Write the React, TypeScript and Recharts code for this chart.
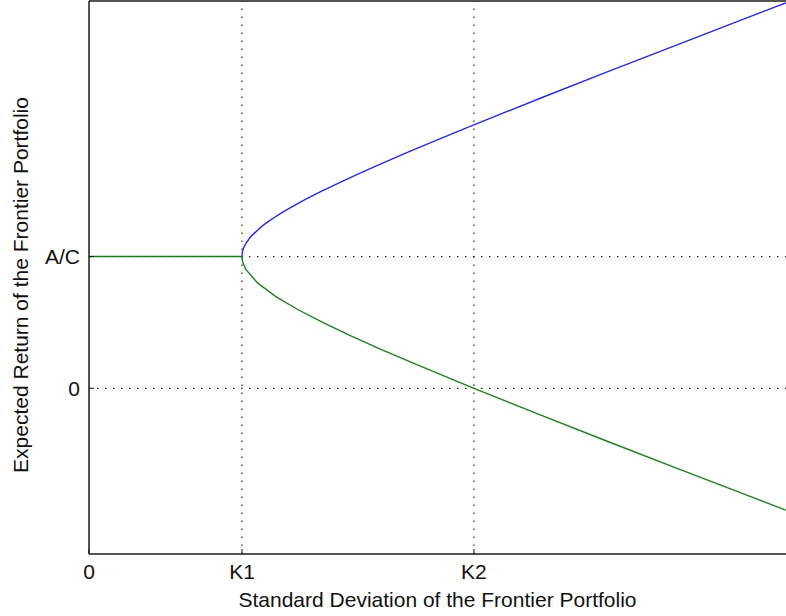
import { LineChart, Line, XAxis, YAxis, ReferenceLine } from 'recharts'

// x: standard deviation (K1 = 1), y: expected return (A/C = 1)
const xTicks = [0, 1, 2.516]
const xTickLabels = ['0', 'K1', 'K2']
const yTicks = [0, 1]
const yTickLabels = ['0', 'A/C']

// upper (efficient) branch
const upperSigma = [1, 1.0011, 1.0066, 1.0263, 1.1015, 1.2164, 1.3612, 1.5273, 1.7085, 1.9005, 2.1003, 2.5159, 2.9454, 3.3833, 3.8269, 4.2742, 4.5553]
const upperReturn = [1, 1.02, 1.05, 1.1, 1.2, 1.3, 1.4, 1.5, 1.6, 1.7, 1.8, 2.0, 2.2, 2.4, 2.6, 2.8, 2.925]

// flat part + lower branch
const lowerSigma = [0, 1, 1.0011, 1.0066, 1.0263, 1.1015, 1.2164, 1.3612, 1.5273, 1.7085, 1.9005, 2.1003, 2.5159, 2.9454, 3.3833, 3.8269, 4.2742, 4.5553]
const lowerReturn = [1, 1, 0.98, 0.95, 0.9, 0.8, 0.7, 0.6, 0.5, 0.4, 0.3, 0.2, 0, -0.2, -0.4, -0.6, -0.8, -0.925]

const X_MAX = 4.556
const Y_MIN = -1.258
const Y_MAX = 2.94

const upperData = upperSigma.map((s, i) => ({ s, r: upperReturn[i] }))
const lowerData = lowerSigma.map((s, i) => ({ s, r: lowerReturn[i] }))

const FONT = '"Liberation Sans", Arial, sans-serif'
const FS = 21
const AXIS = '#1a1a1a'
const dotted = { stroke: '#222', strokeDasharray: '1.5 6.5', strokeWidth: 1.2 }

// rotated y-axis title, placed a little below the plot centre like the original
function YTitle() {
  return (
    <text
      x={28}
      y={285}
      transform="rotate(-90 28 285)"
      textAnchor="middle"
      fill="#111"
      fontSize={FS}
      fontFamily={FONT}
    >
      Expected Return of the Frontier Portfolio
    </text>
  )
}

export default function App() {
  return (
    <div style={{ position: 'absolute', left: 0, top: 0, background: '#fff', fontFamily: FONT }}>
      <LineChart width={786} height={616} margin={{ top: 1, right: 0, left: 0, bottom: 0 }}>
        <XAxis
          type="number"
          dataKey="s"
          domain={[0, X_MAX]}
          allowDataOverflow
          ticks={xTicks}
          tickFormatter={(v: number) => xTickLabels[xTicks.indexOf(v)] ?? ''}
          height={62}
          tickSize={-5}
          tickMargin={15}
          tick={{ fill: '#111', fontSize: FS, fontFamily: FONT }}
          axisLine={{ stroke: AXIS, strokeWidth: 1.5 }}
          tickLine={{ stroke: AXIS }}
          label={{ value: 'Standard Deviation of the Frontier Portfolio', position: 'insideBottom', offset: 9, fill: '#111', fontSize: FS, fontFamily: FONT }}
        />
        <YAxis
          type="number"
          domain={[Y_MIN, Y_MAX]}
          allowDataOverflow
          ticks={yTicks}
          tickFormatter={(v: number) => yTickLabels[yTicks.indexOf(v)] ?? ''}
          width={89}
          tickSize={-5}
          tickMargin={14}
          tick={{ fill: '#111', fontSize: FS, fontFamily: FONT }}
          axisLine={{ stroke: AXIS, strokeWidth: 1.5 }}
          tickLine={{ stroke: AXIS }}
          label={<YTitle />}
        />
        <ReferenceLine y={Y_MAX} stroke={AXIS} strokeWidth={1.5} />
        <ReferenceLine x={xTicks[1]} {...dotted} />
        <ReferenceLine x={xTicks[2]} {...dotted} />
        <ReferenceLine y={yTicks[0]} {...dotted} />
        <ReferenceLine y={yTicks[1]} {...dotted} />
        <Line data={upperData} dataKey="r" type="monotone" stroke="#2a2ad6" strokeWidth={1.4} dot={false} isAnimationActive={false} />
        <Line data={lowerData} dataKey="r" type="linear" stroke="#1f7f1f" strokeWidth={1.4} dot={false} isAnimationActive={false} />
      </LineChart>
    </div>
  )
}
